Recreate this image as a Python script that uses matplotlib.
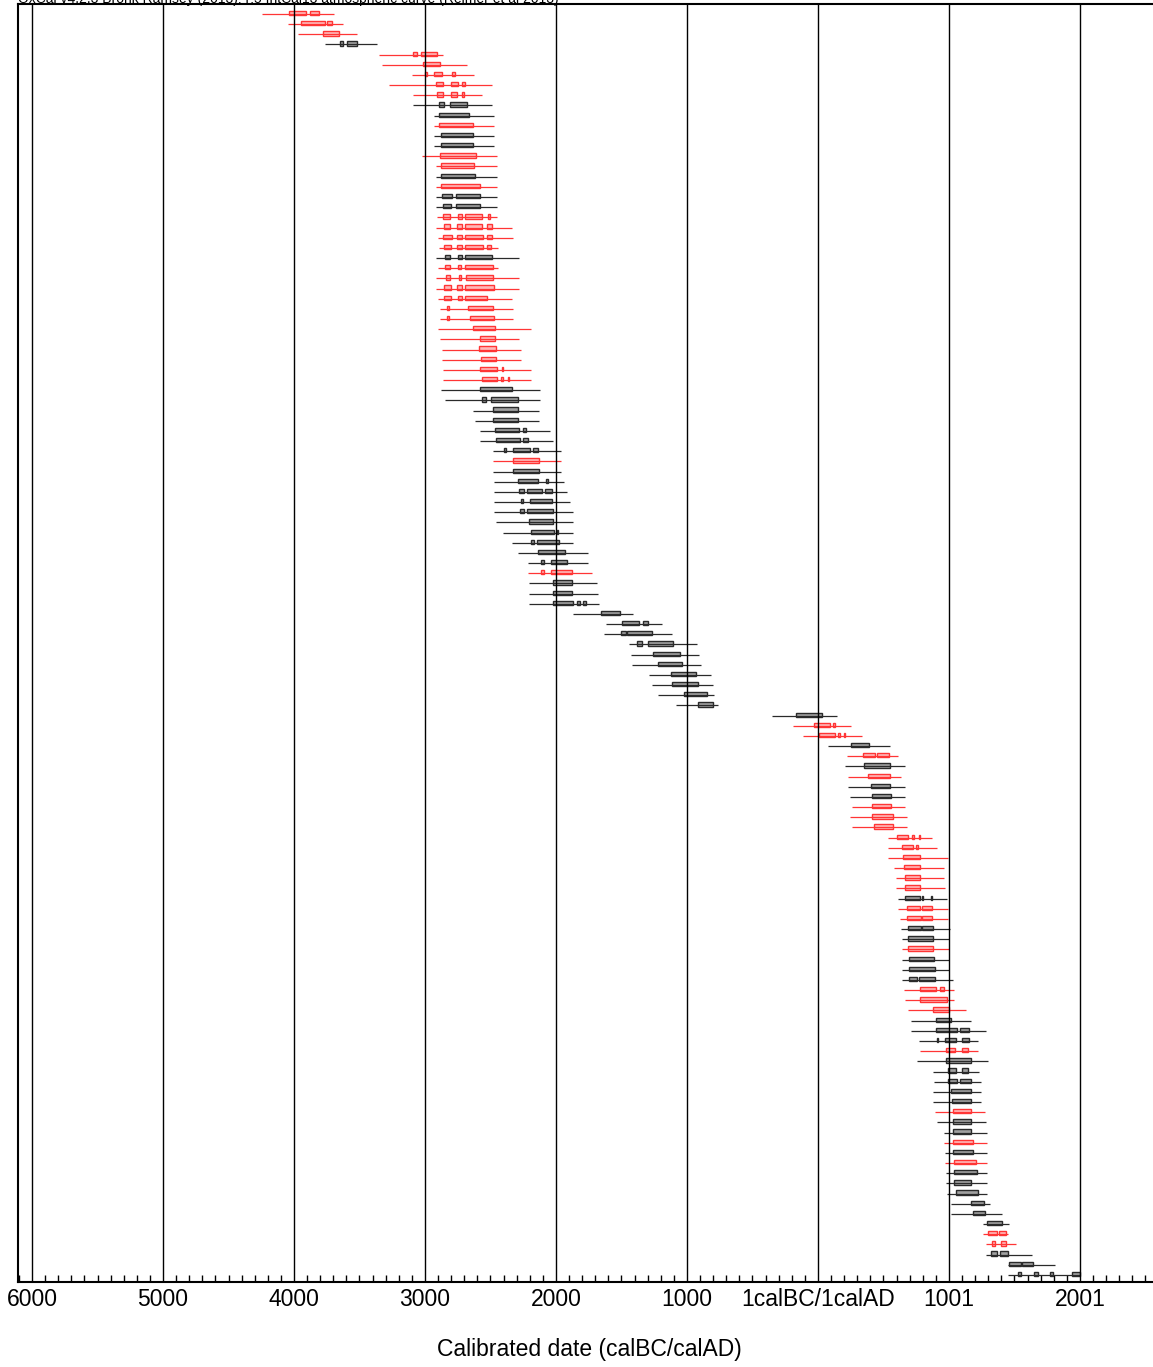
import matplotlib
matplotlib.use("Agg")
import matplotlib.pyplot as plt
from matplotlib.patches import Rectangle
from matplotlib.ticker import FuncFormatter, MultipleLocator

plt.rcParams['font.family'] = ['Liberation Sans', 'DejaVu Sans']

# one row per calibrated date (negative = calBC), top to bottom
colors = list("rrrkrrrrrk" "krkkrrkrkk" "rrrrkrrrrr" "rrrrrrrkkk"
              "kkkkrkkkkk" "kkkkkrkkkk" "kkkkkkkkkk" "rrkrkrkkrr"
              "rrrrrrrkrr" "kkrkkkrrrk" "kkrkkkkkrk" "krkrkkkkkk"
              "rrkkk")

span_lo = [-4245, -4045, -3970, -3765, -3350, -3330, -3100, -3275, -3090, -3090,
           -2930, -2930, -2930, -2930, -3025, -2915, -2915, -2915, -2915, -2915,
           -2910, -2915, -2900, -2895, -2915, -2900, -2915, -2915, -2900, -2885,
           -2885, -2900, -2885, -2870, -2870, -2865, -2865, -2880, -2845, -2635,
           -2620, -2580, -2580, -2480, -2480, -2480, -2475, -2475, -2475, -2475,
           -2460, -2405, -2335, -2290, -2215, -2215, -2205, -2205, -2205, -1870,
           -1620, -1635, -1445, -1430, -1420, -1290, -1265, -1220, -1085, -350,
           -190, -115, 75, 220, 205, 230, 230, 245, 260, 245,
           260, 535, 535, 535, 580, 595, 595, 610, 610, 625,
           635, 640, 640, 640, 640, 640, 655, 665, 685, 710,
           710, 770, 780, 755, 880, 885, 880, 880, 895, 910,
           960, 960, 970, 970, 975, 975, 985, 1015, 1015, 1260,
           1260, 1280, 1280, 1450, 1450]

span_hi = [-3695, -3625, -3520, -3365, -2865, -2680, -2625, -2490, -2565, -2490,
           -2475, -2475, -2475, -2475, -2450, -2450, -2450, -2450, -2450, -2450,
           -2450, -2335, -2330, -2445, -2285, -2445, -2285, -2285, -2335, -2330,
           -2330, -2190, -2285, -2265, -2265, -2190, -2190, -2120, -2120, -2130,
           -2130, -2045, -2025, -1960, -1960, -1960, -1940, -1915, -1895, -1870,
           -1870, -1870, -1870, -1755, -1755, -1725, -1685, -1680, -1670, -1410,
           -1190, -1115, -925, -910, -895, -815, -800, -795, -765, 145,
           250, 335, 550, 610, 665, 635, 665, 665, 665, 680,
           680, 870, 910, 990, 960, 960, 970, 985, 990, 990,
           1010, 1000, 1000, 1000, 1000, 1030, 1040, 1040, 1130, 1170,
           1280, 1220, 1220, 1300, 1230, 1245, 1245, 1245, 1275, 1280,
           1290, 1290, 1290, 1290, 1290, 1290, 1290, 1315, 1405, 1460,
           1450, 1510, 1635, 1810, 2000]

ranges = [
    [(-4040, -3910), (-3880, -3810)], [(-3945, -3765), (-3750, -3710)], [(-3780, -3655)],
    [(-3650, -3625), (-3595, -3520)], [(-3090, -3060), (-3030, -2910)], [(-3015, -2885)],
    [(-3000, -2985), (-2930, -2870), (-2795, -2770)], [(-2915, -2865), (-2800, -2750), (-2720, -2695)],
    [(-2910, -2865), (-2800, -2755), (-2720, -2700)], [(-2895, -2855), (-2810, -2680)],
    [(-2895, -2665)], [(-2895, -2635)], [(-2880, -2635)], [(-2880, -2635)], [(-2885, -2610)],
    [(-2880, -2625)], [(-2880, -2620)], [(-2880, -2580)], [(-2870, -2795), (-2765, -2580)],
    [(-2865, -2800), (-2765, -2580)],
    [(-2865, -2810), (-2750, -2720), (-2695, -2565), (-2520, -2505)],
    [(-2855, -2810), (-2755, -2720), (-2695, -2565), (-2525, -2490)],
    [(-2865, -2795), (-2755, -2720), (-2695, -2555), (-2525, -2490)],
    [(-2855, -2805), (-2755, -2720), (-2695, -2555), (-2530, -2495)],
    [(-2845, -2810), (-2750, -2720), (-2695, -2490)], [(-2845, -2810), (-2750, -2725), (-2695, -2480)],
    [(-2840, -2810), (-2740, -2725), (-2685, -2480)], [(-2855, -2800), (-2755, -2720), (-2695, -2475)],
    [(-2855, -2800), (-2750, -2720), (-2695, -2525)], [(-2830, -2815), (-2670, -2480)],
    [(-2830, -2815), (-2655, -2475)], [(-2635, -2465)], [(-2580, -2465)], [(-2590, -2460)],
    [(-2575, -2460)], [(-2580, -2450), (-2415, -2405)], [(-2565, -2450), (-2420, -2405), (-2370, -2355)],
    [(-2580, -2335)], [(-2565, -2535), (-2495, -2290)], [(-2480, -2290)], [(-2480, -2290)],
    [(-2465, -2285), (-2250, -2230)], [(-2460, -2275), (-2250, -2215)],
    [(-2395, -2385), (-2330, -2200), (-2175, -2135)], [(-2330, -2130)], [(-2330, -2130)],
    [(-2290, -2135), (-2075, -2060)], [(-2285, -2245), (-2220, -2105), (-2085, -2030)],
    [(-2265, -2250), (-2200, -2030)], [(-2275, -2245), (-2220, -2025)], [(-2205, -2025)],
    [(-2190, -2015), (-1995, -1985)], [(-2190, -2170), (-2145, -1975)], [(-2135, -1930)],
    [(-2115, -2090), (-2040, -1915)], [(-2115, -2090), (-2040, -1880)], [(-2025, -1880)],
    [(-2025, -1880)], [(-2025, -1870), (-1840, -1815), (-1795, -1770)], [(-1655, -1510)],
    [(-1495, -1365), (-1335, -1300)], [(-1505, -1465), (-1455, -1265)],
    [(-1380, -1345), (-1300, -1105)], [(-1260, -1055)], [(-1220, -1040)], [(-1120, -930)],
    [(-1115, -915)], [(-1025, -845)], [(-915, -800)], [(-170, 30)], [(-30, 90), (115, 130)],
    [(10, 130), (155, 165), (200, 210)], [(250, 390)], [(345, 435), (450, 540)], [(350, 550)],
    [(380, 550)], [(405, 550)], [(410, 555)], [(410, 555)], [(410, 575)], [(430, 575)],
    [(605, 685), (720, 730), (770, 780)], [(640, 725), (750, 760)], [(650, 780)], [(655, 780)],
    [(665, 780)], [(665, 780)], [(665, 780), (795, 805), (860, 870)], [(680, 780), (795, 870)],
    [(680, 790), (795, 870)], [(685, 790), (795, 880)], [(685, 880)], [(685, 880)], [(695, 885)],
    [(695, 895)], [(695, 755), (770, 895)], [(780, 900), (930, 960)], [(780, 985)], [(880, 1000)],
    [(900, 1015)], [(900, 1060), (1085, 1155)], [(905, 915), (970, 1055), (1100, 1155)],
    [(975, 1045), (1100, 1145)], [(975, 1170)], [(990, 1055), (1100, 1145)],
    [(990, 1060), (1085, 1170)], [(1015, 1170)], [(1025, 1170)], [(1030, 1170)], [(1030, 1170)],
    [(1030, 1170)], [(1030, 1185)], [(1030, 1185)], [(1040, 1205)], [(1040, 1215)], [(1040, 1170)],
    [(1055, 1220)], [(1170, 1265)], [(1185, 1275)], [(1290, 1405)],
    [(1300, 1365), (1380, 1435)], [(1330, 1350), (1395, 1435)], [(1320, 1365), (1390, 1450)],
    [(1460, 1550), (1555, 1640)], [(1525, 1550), (1650, 1680), (1770, 1795), (1940, 2000)],
]

year_ticks = [-6000, -5000, -4000, -3000, -2000, -1000, 0, 1000, 2000]

line_col = {'r': '#ff3535', 'k': '#2a2a2a'}
fill_col = {'r': '#ffb8b8', 'k': '#a0a0a0'}

W, H = 1153, 1367
fig = plt.figure(figsize=(W / 100, H / 100), dpi=100)
ax = fig.add_axes([18 / W, 1 - 1282 / H, 1142 / W, 1278 / H])

n = len(colors)
for i in range(n):
    c = colors[i]
    ax.plot([span_lo[i], span_hi[i]], [i, i], color=line_col[c], lw=0.9, solid_capstyle='butt')
    for a, b in ranges[i]:
        ax.add_patch(Rectangle((a, i - 0.3), b - a, 0.42, facecolor=fill_col[c],
                               edgecolor=line_col[c], lw=1.0))

for t in year_ticks:
    ax.axvline(t, color='black', lw=1.0)

def fmt(v, pos):
    v = int(round(v))
    if v < 0:
        return str(-v)
    if v == 0:
        return '1calBC/1calAD'
    return str(v + 1)

ax.set_xlim(-6107, 2611)
ax.set_ylim(124.7, -0.98)
ax.xaxis.set_major_locator(MultipleLocator(1000))
ax.xaxis.set_minor_locator(MultipleLocator(100))
ax.xaxis.set_major_formatter(FuncFormatter(fmt))
ax.tick_params(axis='x', which='major', direction='in', length=0, labelsize=16.5, pad=4)
ax.tick_params(axis='x', which='minor', direction='in', length=5, width=1)
ax.set_yticks([])
for s in ax.spines.values():
    s.set_linewidth(1.5)

ax.set_xlabel('Calibrated date (calBC/calAD)', fontsize=16.5, labelpad=20)

fig.text(18 / W, 1 - 2.5 / H,
         'OxCal v4.2.3 Bronk Ramsey (2013); r:5 IntCal13 atmospheric curve (Reimer et al 2013)',
         fontsize=10, va='baseline', ha='left')

fig.savefig('out.png', dpi=100)
